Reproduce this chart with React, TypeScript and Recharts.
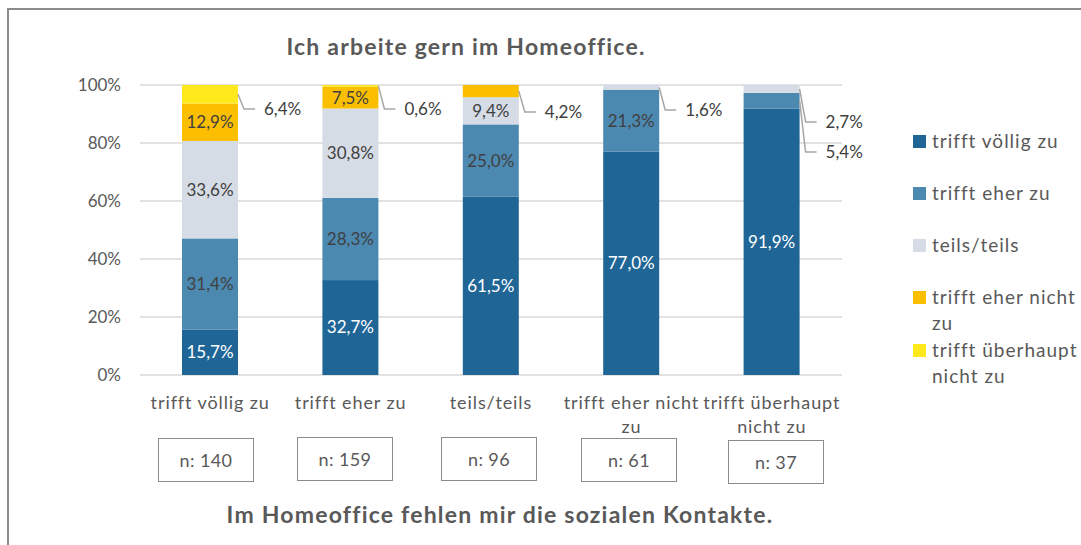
import React from 'react';
import { BarChart, Bar, XAxis, YAxis, CartesianGrid } from 'recharts';

const categories = ['trifft völlig zu', 'trifft eher zu', 'teils/teils', 'trifft eher nicht zu', 'trifft überhaupt nicht zu'];
const seriesNames = ['trifft völlig zu', 'trifft eher zu', 'teils/teils', 'trifft eher nicht zu', 'trifft überhaupt nicht zu'];
const voelligZu = [15.7, 32.7, 61.5, 77.0, 91.9];
const eherZu = [31.4, 28.3, 25.0, 21.3, 5.4];
const teilsTeils = [33.6, 30.8, 9.4, 1.6, 2.7];
const eherNichtZu = [12.9, 7.5, 4.2, 0, 0];
const ueberhauptNichtZu = [6.4, 0.6, 0, 0, 0];
const sampleSizes = [140, 159, 96, 61, 37];
const yTicks = [0, 0.2, 0.4, 0.6, 0.8, 1];

const seriesValues = [voelligZu, eherZu, teilsTeils, eherNichtZu, ueberhauptNichtZu];
const keys = ['s0', 's1', 's2', 's3', 's4'];
const colors = ['#1f6697', '#4c89b1', '#d6dce5', '#fbbf00', '#ffe81c'];

const data = categories.map((name, i) => {
  const row: any = { name };
  seriesValues.forEach((vals, s) => { row[keys[s]] = vals[i]; });
  return row;
});

// where Excel put the small labels (px below plot top)
const PLOT_TOP = 85;
const calloutY: Record<string, number> = {
  '0-4': 24, '1-4': 24, '2-3': 27, '3-2': 25, '4-2': 37, '4-1': 67,
};

const FONT = 'Lato, "Open Sans", sans-serif';
const TEXT = '#595959';
const LABEL = '#404040';

const fmt = (v: number) => `${v.toFixed(1).replace('.', ',')}%`;

const makeShape = (s: number) => (props: any) => {
  const { x, y, width, height, index } = props;
  const v = seriesValues[s][index];
  if (!v || !height) return <g />;
  let label = null;
  if (v >= 7) {
    label = (
      <text x={x + width / 2} y={y + height / 2} dy="0.35em" textAnchor="middle"
        fill={s === 0 ? '#ffffff' : LABEL} fontSize={17} fontFamily={FONT}>
        {fmt(v)}
      </text>
    );
  } else {
    const ly = PLOT_TOP + (calloutY[`${index}-${s}`] ?? 25);
    const sx = x + width;
    const sy = y + height / 2;
    label = (
      <g>
        <polyline points={`${sx},${sy} ${sx + 6},${ly} ${sx + 17},${ly}`} fill="none" stroke="#a6a6a6" strokeWidth={1.5} />
        <text x={sx + 26} y={ly} dy="0.35em" textAnchor="start" fill={LABEL} fontSize={17} fontFamily={FONT}>
          {fmt(v)}
        </text>
      </g>
    );
  }
  return (
    <g>
      <rect x={x} y={y} width={width} height={height} fill={colors[s]} />
      {label}
    </g>
  );
};

const splitLabel = (str: string, max = 17) => {
  const lines: string[] = [];
  let cur = '';
  str.split(' ').forEach((w) => {
    const next = cur ? `${cur} ${w}` : w;
    if (next.length > max && cur) { lines.push(cur); cur = w; } else cur = next;
  });
  if (cur) lines.push(cur);
  return lines;
};

const XTick = (props: any) => {
  const { x, payload } = props;
  const lines = splitLabel(payload.value);
  return (
    <g>
      {lines.map((l, i) => (
        <text key={i} x={x} y={409 + i * 24} textAnchor="middle" fill={TEXT} fontSize={18} letterSpacing={0.9} fontFamily={FONT}>{l}</text>
      ))}
    </g>
  );
};

const boxLeft = [158, 297, 441, 581, 728];
const boxTop = [438, 437, 437, 438, 440];
const legendTop = [141, 193, 245, 297, 350];

export default function App() {
  return (
    <div style={{ position: 'absolute', left: 0, top: 0, width: 1081, height: 545, overflow: 'hidden', background: '#fff', fontFamily: FONT }}>
      <div style={{ position: 'absolute', left: 7, top: 8, width: 1100, height: 600, border: '2.5px solid #8c8c8c' }} />
      <div style={{ position: 'absolute', left: 0, width: 932, top: 32, textAlign: 'center', fontWeight: 700, fontSize: 23, letterSpacing: 1.2, color: TEXT }}>
        Ich arbeite gern im Homeoffice.
      </div>
      <div style={{ position: 'absolute', left: 0, top: 0 }}>
        <BarChart width={1081} height={545} data={data} stackOffset="expand"
          margin={{ top: PLOT_TOP, right: 239, bottom: 110, left: 80 }}>
          <CartesianGrid vertical={false} stroke="#d9d9d9" strokeWidth={1.5} />
          <XAxis dataKey="name" axisLine={false} tickLine={false} height={60} interval={0} tick={<XTick />} />
          <YAxis width={60} domain={[0, 1]} ticks={yTicks} axisLine={false} tickLine={false} tickSize={6} tickMargin={13}
            tickFormatter={(v: number) => `${Math.round(v * 100)}%`}
            tick={{ fill: TEXT, fontSize: 17, fontFamily: FONT }} />
          {keys.map((k, s) => (
            <Bar key={k} dataKey={k} stackId="a" barSize={56} fill={colors[s]} isAnimationActive={false} shape={makeShape(s)} />
          ))}
        </BarChart>
      </div>
      {sampleSizes.map((n, i) => (
        <div key={i} style={{ position: 'absolute', left: boxLeft[i], top: boxTop[i], width: 94, height: 42, border: '1.5px solid #8c8c8c',
          display: 'flex', alignItems: 'center', justifyContent: 'center', fontSize: 18, letterSpacing: 0.4, color: TEXT }}>
          {`n: ${n}`}
        </div>
      ))}
      {seriesNames.map((name, s) => (
        <div key={name} style={{ position: 'absolute', left: 913, top: legendTop[s] - 13, width: 170 }}>
          <div style={{ position: 'absolute', left: 0, top: 7, width: 13, height: 13, background: colors[s] }} />
          <div style={{ marginLeft: 19, width: 150, fontSize: 19, letterSpacing: 1, lineHeight: '26px', color: TEXT }}>{name}</div>
        </div>
      ))}
      <div style={{ position: 'absolute', left: 0, width: 1000, top: 500, textAlign: 'center', fontWeight: 700, fontSize: 23, letterSpacing: 1.2, color: TEXT }}>
        Im Homeoffice fehlen mir die sozialen Kontakte.
      </div>
    </div>
  );
}
